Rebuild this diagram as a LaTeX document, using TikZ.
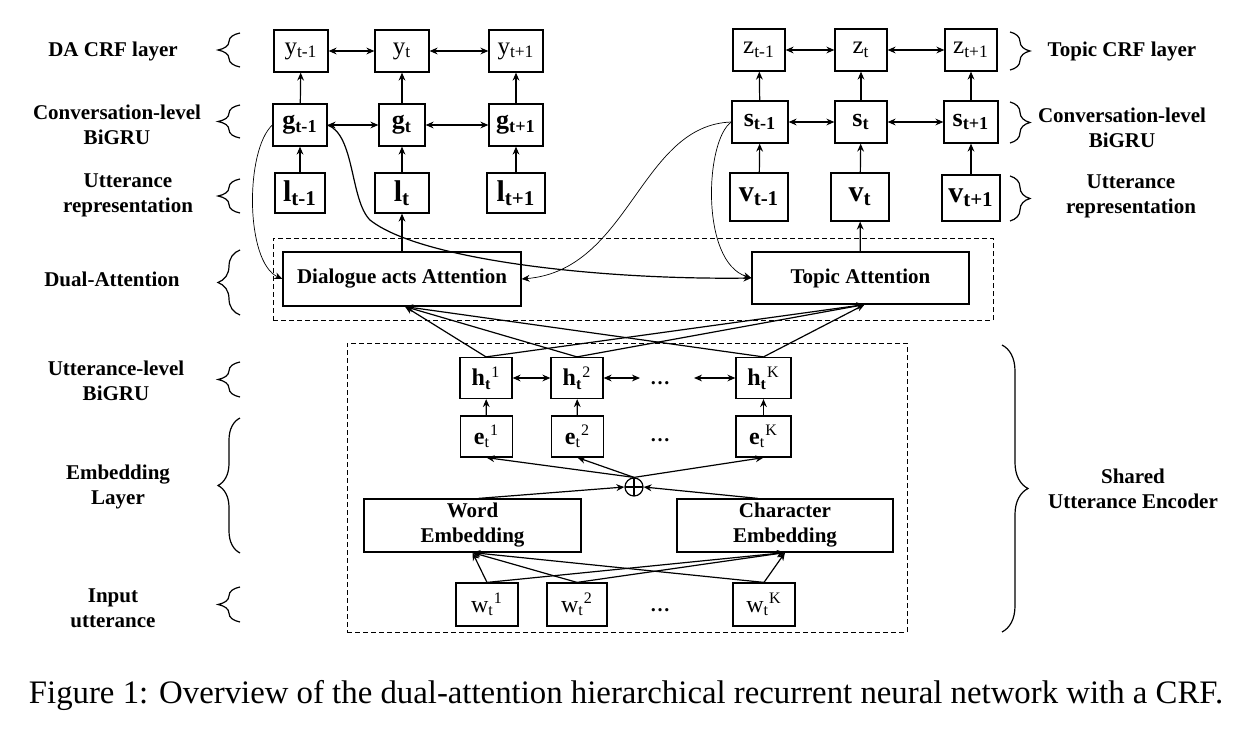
\documentclass[tikz,border=0pt]{standalone}
\usepackage{fontspec}
\setmainfont{Liberation Serif}
\usetikzlibrary{arrows.meta, positioning, decorations.pathreplacing}

\begin{document}
\begin{tikzpicture}[x=0.5pt, y=-0.5pt, >={Stealth[length=4pt, width=3.4pt]}, line width=0.6pt,
    cell/.style={rectangle, draw, minimum width=27pt, minimum height=21pt, inner sep=1pt, font=\fontsize{12.5}{13}\selectfont},
    gcell/.style={cell, font=\fontsize{13}{14}\selectfont},
    lcell/.style={cell, minimum height=20pt, font=\fontsize{15}{16}\selectfont},
    vcell/.style={cell, minimum width=29pt, minimum height=24pt, font=\fontsize{15}{16}\selectfont},
    small/.style={cell, font=\fontsize{12}{13}\selectfont},
    wide/.style={rectangle, draw, align=center, inner sep=1pt, font=\bfseries\fontsize{10.5}{12.5}\selectfont},
    layer/.style={align=center, font=\bfseries\fontsize{10.5}{12.5}\selectfont},
    group/.style={draw, line width=0.5pt, dash pattern=on 2.5pt off 1.5pt},
    lbrace/.style={decorate, decoration={brace, amplitude=11pt}, line width=0.6pt},
    thin/.style={line width=0.35pt}]
    \useasboundingbox (0,0) rectangle (1260,744);

    % DA side
    \node[cell] (y1) at (301,51) {y\textsubscript{t-1}};
    \node[cell] (y2) at (402,51) {y\textsubscript{t}};
    \node[cell] (y3) at (516,51) {y\textsubscript{t+1}};
    \node[gcell] (g1) at (300,125) {\textbf{g\textsubscript{t-1}}};
    \node[gcell, minimum width=23pt] (g2) at (402,125) {\textbf{g\textsubscript{t}}};
    \node[gcell] (g3) at (516,125) {\textbf{g\textsubscript{t+1}}};
    \node[lcell, minimum width=25pt] (l1) at (300,193) {\textbf{l\textsubscript{t-1}}};
    \node[lcell] (l2) at (402,193) {\textbf{l\textsubscript{t}}};
    \node[lcell, minimum width=29pt] (l3) at (516,193) {\textbf{l\textsubscript{t+1}}};

    % topic side
    \node[cell, minimum width=26pt] (z1) at (759,50) {z\textsubscript{t-1}};
    \node[cell, minimum width=26pt] (z2) at (861,50) {z\textsubscript{t}};
    \node[cell, minimum width=26pt] (z3) at (971,50) {z\textsubscript{t+1}};
    \node[gcell, minimum width=28pt] (s1) at (760,122) {\textbf{s\textsubscript{t-1}}};
    \node[gcell, minimum width=26pt] (s2) at (861,122) {\textbf{s\textsubscript{t}}};
    \node[gcell, minimum width=27pt] (s3) at (971,122) {\textbf{s\textsubscript{t+1}}};
    \node[vcell] (v1) at (759,197) {\textbf{v\textsubscript{t-1}}};
    \node[vcell] (v2) at (860,197) {\textbf{v\textsubscript{t}}};
    \node[vcell, minimum height=23pt] (v3) at (971,198) {\textbf{v\textsubscript{t+1}}};

    % dual attention
    \node[group, minimum width=360pt, minimum height=41pt] (dual) at (633,279) {};
    \node[wide, minimum width=119pt, minimum height=27pt] (da) at (402,279) {Dialogue acts Attention};
    \node[wide, minimum width=108.5pt, minimum height=26pt] (tp) at (860.5,278) {Topic Attention};

    % shared utterance encoder
    \node[group, minimum width=280pt, minimum height=144.5pt] (enc) at (627,487.5) {};
    \node[small, minimum width=26pt, minimum height=20.5pt] (h1) at (486,378) {\textbf{h\textsubscript{t}}\textsuperscript{1}};
    \node[small, minimum width=26pt, minimum height=20.5pt] (h2) at (577,378) {\textbf{h\textsubscript{t}}\textsuperscript{2}};
    \node (hdots) at (660,383) {\textbf{\ldots}};
    \node[small, minimum width=27.5pt, minimum height=20.5pt] (hK) at (763.5,378) {\textbf{h\textsubscript{t}}\textsuperscript{K}};
    \coordinate (hdl) at (640,378);
    \coordinate (hdr) at (694,378);
    \node[small, minimum width=26pt, minimum height=20.5pt] (e1) at (486.5,436.5) {\textbf{e}\textsubscript{t}\textsuperscript{1}};
    \node[small, minimum width=26pt, minimum height=20.5pt] (e2) at (577.5,436.5) {\textbf{e}\textsubscript{t}\textsuperscript{2}};
    \node (edots) at (660,440) {\textbf{\ldots}};
    \node[small, minimum width=27.5pt, minimum height=20.5pt] (eK) at (763.5,436.5) {\textbf{e}\textsubscript{t}\textsuperscript{K}};
    \node[circle, draw, minimum size=9pt, inner sep=0pt,
          path picture={\draw (path picture bounding box.north) -- (path picture bounding box.south)
                              (path picture bounding box.west) -- (path picture bounding box.east);}] (op) at (634,487) {};
    \node[wide, minimum width=108.5pt, minimum height=26.5pt] (we) at (472.5,525.5) {Word\\Embedding};
    \node[wide, minimum width=108pt, minimum height=26.5pt] (ce) at (785,525.5) {Character\\Embedding};
    \node[small, minimum width=31pt, minimum height=21.5pt] (w1) at (487,604.5) {w\textsubscript{t}\textsuperscript{1}};
    \node[small, minimum width=30pt, minimum height=21.5pt] (w2) at (577,604.5) {w\textsubscript{t}\textsuperscript{2}};
    \node (wdots) at (660,610) {\textbf{\ldots}};
    \node[small, minimum width=31pt, minimum height=21.5pt] (wK) at (764,604.5) {w\textsubscript{t}\textsuperscript{K}};

    % left labels
    \node[layer] (lcrf) at (113,51) {DA CRF layer};
    \node[layer] (lconv) at (117,125) {Conversation-level\\BiGRU};
    \node[layer] (lrep) at (128,195) {Utterance\\representation};
    \node[layer] (ldual) at (112,279) {Dual-Attention};
    \node[layer] (lutt) at (116,381) {Utterance-level\\BiGRU};
    \node[layer] (lemb) at (118,487) {Embedding\\Layer};
    \node[layer] (lin) at (113,608) {Input\\utterance};
    % right labels
    \node[layer] (rcrf) at (1122,51) {Topic CRF layer};
    \node[layer] (rconv) at (1122,128) {Conversation-level\\BiGRU};
    \node[layer] (rrep) at (1131,196) {Utterance\\representation};
    \node[layer] (renc) at (1133,489) {Shared\\Utterance Encoder};

    % braces
    \draw[lbrace] (240,67) -- (240,33);
    \draw[lbrace] (240,138) -- (240,105);
    \draw[lbrace] (240,213) -- (240,179);
    \draw[lbrace] (240,315) -- (240,250);
    \draw[lbrace] (240,397) -- (240,362);
    \draw[lbrace] (240,553) -- (240,418);
    \draw[lbrace] (240,622) -- (240,587);
    \draw[lbrace, decoration={amplitude=10pt}] (1010,32) -- (1010,70);
    \draw[lbrace, decoration={amplitude=10pt}] (1010,102) -- (1010,143);
    \draw[lbrace, decoration={amplitude=10pt}] (1010,176) -- (1010,221);
    \draw[lbrace, decoration={amplitude=13pt}] (1002,345) -- (1002,632);

    % CRF and BiGRU chains
    \draw[<->] (y1) -- (y2);
    \draw[<->] (y2) -- (y3);
    \draw[<->] (g1) -- (g2);
    \draw[<->] (g2) -- (g3);
    \draw[<->] (z1) -- (z2);
    \draw[<->] (z2) -- (z3);
    \draw[<->] (s1) -- (s2);
    \draw[<->] (s2) -- (s3);
    \foreach \i in {1,2,3} {
        \draw[->] (l\i) -- (g\i);
        \draw[->] (g\i) -- (y\i);
        \draw[->] (v\i) -- (s\i);
        \draw[->] (s\i) -- (z\i);
    }
    \draw[->] (da) -- (l2);
    \draw[->] (tp) -- (v2);

    % attention inputs from the previous states
    \draw[->, thin] (g1.west) .. controls (245,150) and (245,262) .. (da.west);
    \draw[->] (g1.east) .. controls (355,135) and (350,200) .. (370,220) .. controls (420,260) and (600,280) .. (tp.west);
    \draw[->, thin] (s1.west) .. controls (640,125) and (630,270) .. (da.east);
    \draw[->, thin] (s1.west) .. controls (705,140) and (700,262) .. (tp.west);

    % utterance encoder
    \foreach \k in {1,2,K} {
        \draw[->] (h\k.north) -- ([xshift=1.5pt]da.south);
        \draw[->] (h\k.north) -- ([xshift=2pt]tp.south);
        \draw[->] (e\k) -- (h\k);
        \draw[->] (op.north) -- (e\k.south);
        \draw[->] (w\k.north) -- (we.south);
        \draw[->] (w\k.north) -- (ce.south);
    }
    \draw[<->] (h1) -- (h2);
    \draw[<->] (h2) -- (hdl);
    \draw[<->] (hdr) -- (hK);
    \draw[->] ([xshift=3pt]we.north) -- (op.west);
    \draw[->] ([xshift=-13.5pt]ce.north) -- (op.east);

    \node[font=\fontsize{16.4}{19}\selectfont] (cap) at (626,695) {Figure 1: Overview of the dual-attention hierarchical recurrent neural network with a CRF.};
\end{tikzpicture}
\end{document}
